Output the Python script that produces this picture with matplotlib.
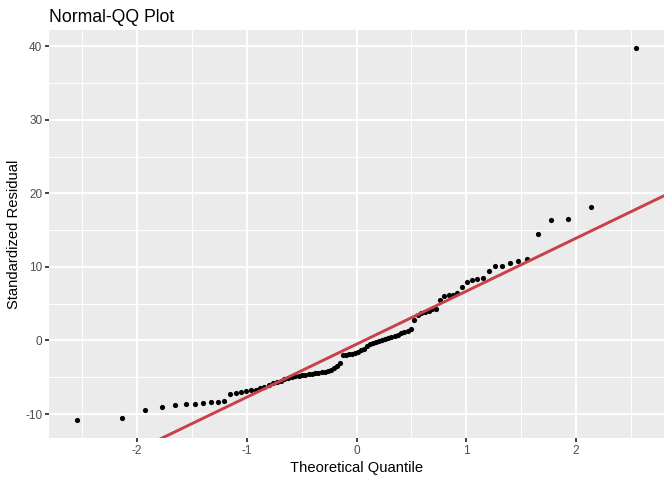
from statistics import NormalDist
import matplotlib
matplotlib.use("Agg")
from matplotlib import pyplot as plt
from matplotlib.ticker import MultipleLocator

plt.rcParams['font.family'] = ['Liberation Sans', 'DejaVu Sans']
plt.rcParams['axes.unicode_minus'] = False

# residuos padronizados ordenados
residuos = [
    -10.85, -10.58, -9.41, -9.04, -8.81, -8.68, -8.63, -8.54, -8.36, -8.32,
    -8.19, -7.27, -7.10, -7.00, -6.87, -6.77, -6.73, -6.50, -6.28, -6.00,
    -5.80, -5.68, -5.45, -5.28, -5.10, -4.98, -4.88, -4.78, -4.70, -4.64,
    -4.59, -4.52, -4.46, -4.40, -4.32, -4.22, -4.10, -3.98, -3.80, -3.50,
    -3.10, -2.01, -1.95, -1.88, -1.78, -1.66, -1.52, -1.35, -1.15, -0.72,
    -0.45, -0.30, -0.18, -0.08, 0.05, 0.20, 0.33, 0.45, 0.60, 0.80,
    1.00, 1.20, 1.35, 1.60, 2.79, 3.47, 3.70, 3.88, 4.05, 4.24,
    4.24, 5.51, 6.05, 6.15, 6.19, 6.42, 7.25, 7.95, 8.18, 8.41,
    8.54, 9.50, 10.13, 10.17, 10.50, 10.85, 11.12, 14.44, 16.39, 16.56,
    18.15, 39.77,
]

# reta de referencia
reta_inclinacao = 7.207
reta_intercepto = -0.51

x_ticks = [-2, -1, 0, 1, 2]
y_ticks = [-10, 0, 10, 20, 30, 40]

# quantis teoricos (ppoints)
n = len(residuos)
quantis = [NormalDist().inv_cdf((i - 0.5) / n) for i in range(1, n + 1)]

fig = plt.figure(figsize=(6.72, 4.8), dpi=100)
ax = fig.add_axes([49 / 672, 1 - 438.3 / 480, (664 - 49) / 672, (438.3 - 30) / 480])
ax.set_facecolor('#EBEBEB')
for s in ax.spines.values():
    s.set_visible(False)

ax.set_xlim(-2.8, 2.8)
ax.set_ylim(-13.3, 42.2)
ax.set_xticks(x_ticks)
ax.set_yticks(y_ticks)
ax.xaxis.set_minor_locator(MultipleLocator(0.5))
ax.yaxis.set_minor_locator(MultipleLocator(5))
ax.grid(which='major', color='white', linewidth=1.35)
ax.grid(which='minor', color='white', linewidth=0.7)
ax.set_axisbelow(True)
ax.tick_params(which='major', length=2.7, width=1.3, color='#333333',
               labelsize=8.5, labelcolor='#4D4D4D', pad=2.2)
ax.tick_params(which='minor', length=0)

ax.scatter(quantis, residuos, s=14, color='black', linewidths=0, zorder=3)

xs = [-2.8, 2.8]
ax.plot(xs, [reta_intercepto + reta_inclinacao * v for v in xs],
        color='#C9404A', linewidth=2.1, zorder=4)

ax.set_xlabel("Theoretical Quantile", fontsize=10.6, labelpad=3)
ax.set_ylabel("Standardized Residual", fontsize=10.6, labelpad=3)
ax.set_title("Normal-QQ Plot", fontsize=12.7, loc='left', pad=6)

fig.savefig("out.png", dpi=100)
